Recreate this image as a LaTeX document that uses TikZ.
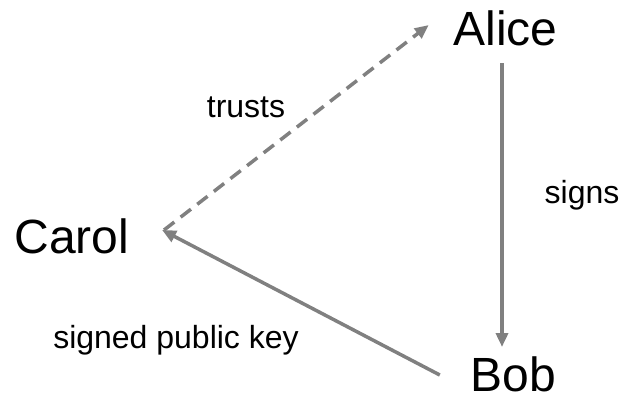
\documentclass[tikz,border=0pt]{standalone}
\usepackage{fontspec}
\setsansfont{Liberation Sans}
\usetikzlibrary{arrows.meta}
\definecolor{linegray}{HTML}{808080}
\tikzset{party/.style={inner sep=0pt, anchor=base, font=\sffamily\fontsize{48}{56}\selectfont}}
\tikzset{edgelabel/.style={inner sep=0pt, anchor=base, font=\sffamily\fontsize{32}{38}\selectfont}}
\tikzset{relation/.style={draw=linegray, line width=3.5pt, -{Triangle[length=14pt, width=12pt, fill=linegray]}}}
\tikzset{trustline/.style={relation, dash pattern=on 13pt off 8pt}}

\begin{document}
\begin{tikzpicture}[x=1pt, y=-1pt, font=\sffamily]
    \useasboundingbox (0,0) rectangle (621,399);
    \node[party] (alice) at (505.5,45) {Alice};
    \node[party] (carol) at (72,253) {Carol};
    \node[party] (bob) at (513.5,391) {Bob};
    \node[edgelabel] (trusts) at (246,117) {trusts};
    \node[edgelabel] (signs) at (582,203) {signs};
    \node[edgelabel] (signedkey) at (176,348) {signed public key};
    \draw[trustline] ([shift={(34.5,-23)}]carol.base east) -- ([shift={(-24.5,-20)}]alice.base west);
    \draw[relation] ([shift={(-3.5,18)}]alice.base) -- ([shift={(-11.5,-44)}]bob.base);
    \draw[relation] ([shift={(-30.8,-16)}]bob.base west) -- ([shift={(32.5,-23)}]carol.base east);
\end{tikzpicture}
\end{document}
